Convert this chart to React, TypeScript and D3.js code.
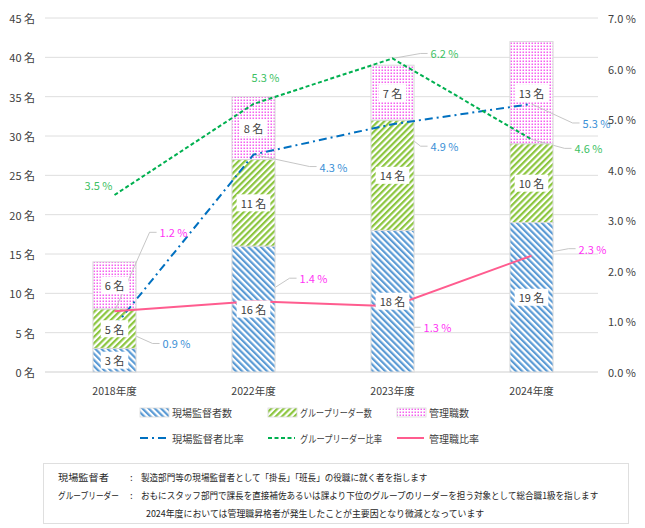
import React, { useEffect, useRef } from 'react';
import * as d3 from 'd3';

// 年度別の人数（名）と比率（%）
const categories = ['2018年度', '2022年度', '2023年度', '2024年度'];
const supervisorCounts = [3, 16, 18, 19];
const leaderCounts = [5, 11, 14, 10];
const managerCounts = [6, 8, 7, 13];
const supervisorRates = [0.9, 4.3, 4.9, 5.3];
const leaderRates = [3.5, 5.3, 6.2, 4.6];
const managerRates = [1.2, 1.4, 1.3, 2.3];
const countTicks = [0, 5, 10, 15, 20, 25, 30, 35, 40, 45];
const rateTicks = [0, 1, 2, 3, 4, 5, 6, 7];

const barNames = ['現場監督者数', 'グループリーダー数', '管理職数'];
const lineNames = ['現場監督者比率', 'グループリーダー比率', '管理職比率'];

const noteTerms = ['現場監督者', 'グループリーダー', ''];
const noteTexts = [
  '製造部門等の現場監督者として「掛長」「班長」の役職に就く者を指します',
  'おもにスタッフ部門で課長を直接補佐あるいは課より下位のグループのリーダーを担う対象として総合職1級を指します',
  '2024年度においては管理職昇格者が発生したことが主要因となり微減となっています',
];

// label offsets from the data point: [dx, dy, leader]
const supervisorLabelPos: [number, number, boolean][] = [[62, 17, true], [80, 12, true], [52, 22, true], [65, 19, true]];
const leaderLabelPos: [number, number, boolean][] = [[-16, -10, false], [12, -27, false], [52, -5, true], [57, 9, true]];
const managerLabelPos: [number, number, boolean][] = [[59, -79, true], [60, -23, true], [45, 21, true], [61, -7, true]];

const FONT = '"Noto Sans CJK JP", "Noto Sans", sans-serif';
const TEXT = '#404040';

const App: React.FC = () => {
  const svgRef = useRef<SVGSVGElement>(null);

  useEffect(() => {
    const width = 645;
    const height = 528;
    const svg = d3.select(svgRef.current);
    svg.selectAll('*').remove();
    svg.attr('width', width).attr('height', height).style('font-family', FONT);

    const plot = { left: 45, right: 601, top: 18, bottom: 372 };

    const x = d3.scaleBand<string>()
      .domain(categories)
      .range([plot.left, plot.right])
      .paddingInner(0.69)
      .paddingOuter(0.345);
    const yL = d3.scaleLinear().domain([0, 45]).range([plot.bottom, plot.top]);
    const yR = d3.scaleLinear().domain([0, 7]).range([plot.bottom, plot.top]);

    // narrow text drawn at a fixed width (scaled horizontally)
    const fitText = (parent: any, tx: number, ty: number, str: string, size: number, fill: string, targetW: number) => {
      const g = parent.append('g');
      const t = g.append('text')
        .attr('dominant-baseline', 'central')
        .attr('font-size', size)
        .attr('fill', fill)
        .text(str);
      const w = (t.node() as SVGTextElement).getComputedTextLength();
      const k = w > 0 ? targetW / w : 1;
      g.attr('transform', `translate(${tx},${ty}) scale(${k},1)`);
      return g;
    };

    // Patterns
    const defs = svg.append('defs');
    const stripe = (id: string, color: string, angle: number) => {
      const p = defs.append('pattern')
        .attr('id', id)
        .attr('patternUnits', 'userSpaceOnUse')
        .attr('width', 4.4).attr('height', 4.4)
        .attr('patternTransform', `rotate(${angle})`);
      p.append('rect').attr('width', 4.4).attr('height', 4.4).attr('fill', '#fff');
      p.append('rect').attr('width', 2.2).attr('height', 4.4).attr('fill', color);
    };
    stripe('pat-sup', '#5B9BD5', -45);
    stripe('pat-lead', '#8CC63F', 45);
    const dots = defs.append('pattern')
      .attr('id', 'pat-mgr')
      .attr('patternUnits', 'userSpaceOnUse')
      .attr('width', 3).attr('height', 3);
    dots.append('rect').attr('width', 3).attr('height', 3).attr('fill', '#fff');
    dots.append('rect').attr('x', 0.5).attr('y', 0.5).attr('width', 1.5).attr('height', 1.5).attr('fill', '#F560F0');

    // Gridlines
    svg.append('g')
      .selectAll('line')
      .data(countTicks)
      .enter().append('line')
      .attr('x1', plot.left).attr('x2', plot.right - 3)
      .attr('y1', d => yL(d)).attr('y2', d => yL(d))
      .attr('stroke', d => (d === 0 ? '#CFCFCF' : '#DEDEDE'))
      .attr('stroke-width', 1);

    // Stacked data
    const table = categories.map((c, i) => ({
      cat: c,
      sup: supervisorCounts[i],
      lead: leaderCounts[i],
      mgr: managerCounts[i],
    }));
    const keys = ['sup', 'lead', 'mgr'];
    const fills: Record<string, string> = { sup: 'url(#pat-sup)', lead: 'url(#pat-lead)', mgr: 'url(#pat-mgr)' };
    const stacked = d3.stack<any>().keys(keys)(table);

    const drawLayer = (layer: any) => {
      svg.append('g')
        .selectAll('rect')
        .data(layer)
        .enter().append('rect')
        .attr('x', (d: any) => x(d.data.cat)!)
        .attr('width', x.bandwidth())
        .attr('y', (d: any) => yL(d[1]))
        .attr('height', (d: any) => yL(d[0]) - yL(d[1]))
        .attr('fill', fills[layer.key])
        .attr('stroke', '#D9D9D9')
        .attr('stroke-width', 1);
    };

    // 管理職 bars first so leader lines show over the dots
    drawLayer(stacked[2]);

    const series = [
      { rates: supervisorRates, pos: supervisorLabelPos, color: '#0070C0', text: '#3A8FD6', dash: '8 4 2 4' },
      { rates: leaderRates, pos: leaderLabelPos, color: '#00B050', text: '#3CBF63', dash: '4 2.5' },
      { rates: managerRates, pos: managerLabelPos, color: '#FF5C8F', text: '#FF33F5', dash: null },
    ];

    const leaderG = svg.append('g');

    drawLayer(stacked[0]);
    drawLayer(stacked[1]);

    // Lines
    const cx = (c: string) => x(c)! + x.bandwidth() / 2;
    series.forEach(s => {
      const line = d3.line<number>()
        .x((_, i) => cx(categories[i]))
        .y(d => yR(d));
      const path = svg.append('path')
        .datum(s.rates)
        .attr('fill', 'none')
        .attr('stroke', s.color)
        .attr('stroke-width', 2)
        .attr('d', line);
      if (s.dash) path.attr('stroke-dasharray', s.dash);
    });

    // Bar labels
    stacked.forEach(layer => {
      layer.forEach((d: any) => {
        const g = svg.append('g');
        const lx = cx(d.data.cat);
        const ly = yL((d[0] + d[1]) / 2);
        const bg = g.append('rect').attr('fill', '#fff');
        const t = g.append('text')
          .attr('x', lx).attr('y', ly)
          .attr('text-anchor', 'middle')
          .attr('dominant-baseline', 'central')
          .attr('font-size', 11)
          .attr('fill', TEXT)
          .text(`${d[1] - d[0]} 名`);
        const w = (t.node() as SVGTextElement).getComputedTextLength();
        bg.attr('x', lx - w / 2 - 4).attr('y', ly - 8.5).attr('width', w + 8).attr('height', 17);
      });
    });

    // Rate labels with leader lines
    series.forEach(s => {
      s.rates.forEach((v, i) => {
        const px = cx(categories[i]);
        const py = yR(v);
        const [dx, dy, leader] = s.pos[i];
        const lx = px + dx;
        const ly = py + dy;
        const t = svg.append('text')
          .attr('x', lx).attr('y', ly)
          .attr('text-anchor', 'middle')
          .attr('dominant-baseline', 'central')
          .attr('font-size', 11)
          .attr('fill', s.text)
          .text(`${v.toFixed(1)} %`);
        if (leader) {
          const w = (t.node() as SVGTextElement).getComputedTextLength();
          const left = lx - w / 2 - 3;
          leaderG.append('polyline')
            .attr('points', `${px},${py} ${left - 7},${ly} ${left},${ly}`)
            .attr('fill', 'none')
            .attr('stroke', '#BFBFBF')
            .attr('stroke-width', 0.9);
        }
      });
    });

    // Axes tick labels
    svg.append('g')
      .selectAll('text')
      .data(countTicks)
      .enter().append('text')
      .attr('x', 35).attr('y', d => yL(d))
      .attr('text-anchor', 'end')
      .attr('dominant-baseline', 'central')
      .attr('font-size', 11)
      .attr('fill', TEXT)
      .text(d => `${d} 名`);

    svg.append('g')
      .selectAll('text')
      .data(rateTicks)
      .enter().append('text')
      .attr('x', 608).attr('y', d => yR(d))
      .attr('dominant-baseline', 'central')
      .attr('font-size', 11)
      .attr('fill', TEXT)
      .text(d => `${d.toFixed(1)} %`);

    svg.append('g')
      .selectAll('text')
      .data(categories)
      .enter().append('text')
      .attr('x', d => cx(d)).attr('y', 390)
      .attr('text-anchor', 'middle')
      .attr('dominant-baseline', 'central')
      .attr('font-size', 10.5)
      .attr('fill', TEXT)
      .text(d => d);

    // Legend
    const legendX = [140, 268, 397];
    const barNameLen = [60, 72, 40];
    const lineNameLen = [72, 82, 50];
    const legend = svg.append('g');
    keys.forEach((k, i) => {
      legend.append('rect')
        .attr('x', legendX[i]).attr('y', 408)
        .attr('width', 29).attr('height', 9)
        .attr('fill', fills[k])
        .attr('stroke', '#D9D9D9').attr('stroke-width', 0.8);
      fitText(legend, legendX[i] + 32, 412.5, barNames[i], 10, TEXT, barNameLen[i]);
    });
    series.forEach((s, i) => {
      const l = legend.append('line')
        .attr('x1', legendX[i]).attr('x2', legendX[i] + 27)
        .attr('y1', 438).attr('y2', 438)
        .attr('stroke', s.color)
        .attr('stroke-width', 2);
      if (s.dash) l.attr('stroke-dasharray', s.dash);
      fitText(legend, legendX[i] + 32, 438.5, lineNames[i], 10, TEXT, lineNameLen[i]);
    });

    // Notes box
    const notesG = svg.append('g');
    notesG.append('rect')
      .attr('x', 43.5).attr('y', 463.5)
      .attr('width', 585).attr('height', 60)
      .attr('fill', 'none')
      .attr('stroke', '#BFBFBF')
      .attr('stroke-dasharray', '1 1');
    const rowY = [477, 495, 513];
    const textStart = [141, 141, 146];
    const textEnd = [428, 599, 485];
    const termLen = [51, 61, 0];
    noteTexts.forEach((txt, i) => {
      if (noteTerms[i]) {
        fitText(notesG, 58, rowY[i], noteTerms[i], 9.5, '#262626', termLen[i]);
        notesG.append('text')
          .attr('x', 130).attr('y', rowY[i])
          .attr('dominant-baseline', 'central')
          .attr('font-size', 9.5)
          .attr('fill', '#262626')
          .text(':');
      }
      fitText(notesG, textStart[i], rowY[i], txt, 9.5, '#262626', textEnd[i] - textStart[i]);
    });
  }, []);

  return (
    <div style={{ position: 'absolute', left: 0, top: 0, background: '#fff' }}>
      <svg ref={svgRef}></svg>
    </div>
  );
};

export default App;
